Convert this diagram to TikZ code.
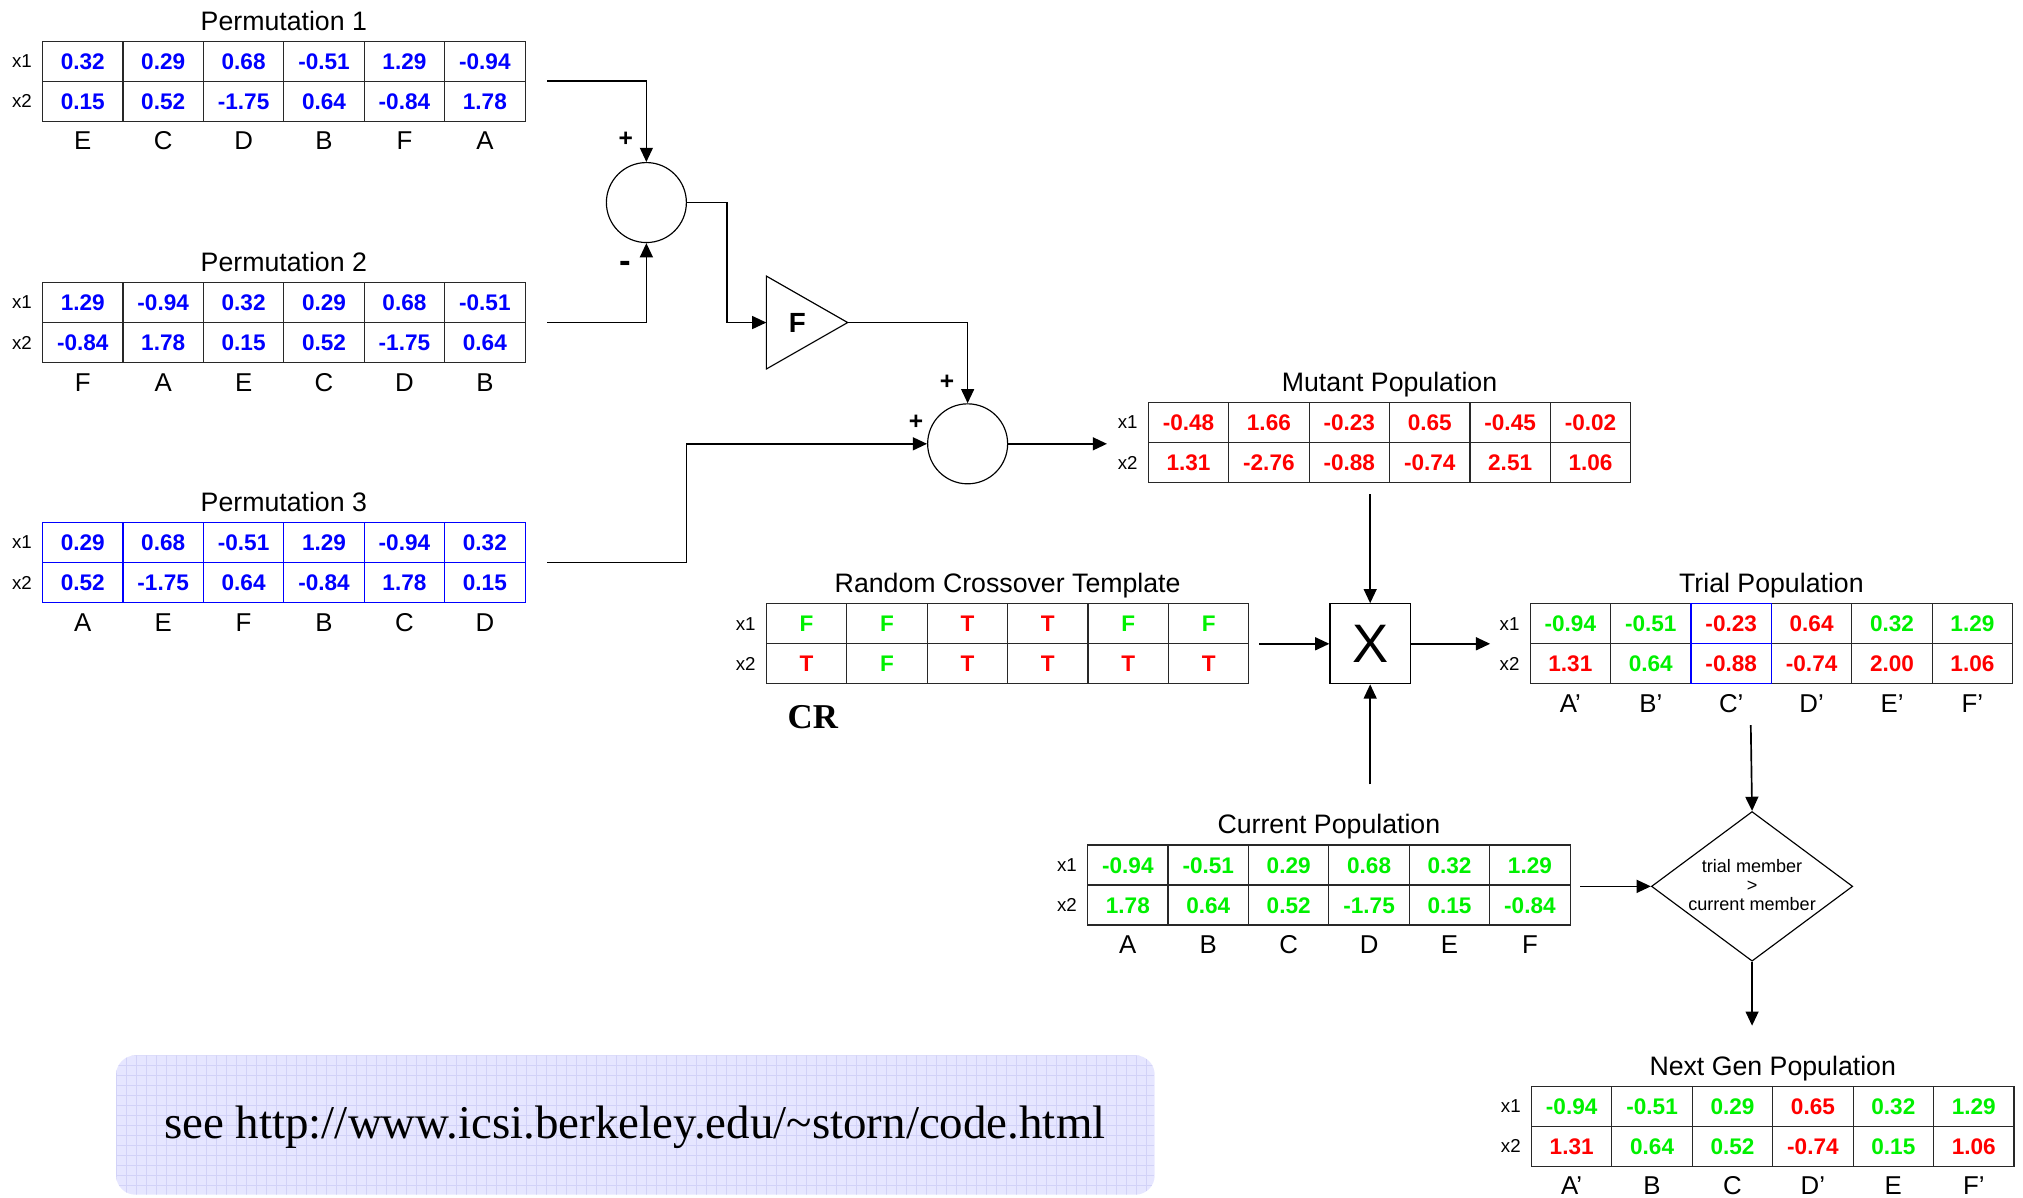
\documentclass[tikz,border=0pt]{standalone}
\usepackage{fontspec}
\setmainfont{Liberation Sans}
\newfontfamily\serifA{Liberation Serif}
\usetikzlibrary{arrows.meta,shapes.geometric,calc}
\definecolor{vblue}{RGB}{0,0,255}
\definecolor{vred}{RGB}{255,0,0}
\definecolor{vgreen}{RGB}{0,240,0}
\definecolor{boxfill}{RGB}{230,230,255}
\definecolor{boxgrid}{RGB}{210,210,247}
\definecolor{tline}{RGB}{40,40,40}
\tikzset{
 cell/.style={minimum width=62.33pt, minimum height=31pt, inner sep=0pt, outer sep=0pt, text height=12.5pt, text depth=0pt, font=\fontsize{17.5}{20}\selectfont\bfseries},
 tgrid/.style={line width=0.9pt, line cap=rect},
 ttl/.style={font=\fontsize{20.7}{24}\selectfont, inner sep=0pt, text height=14.8pt, text depth=0pt},
 rowlbl/.style={font=\fontsize{14.5}{16}\selectfont, inner sep=0pt},
 collbl/.style={font=\fontsize{20}{22}\selectfont, inner sep=0pt, text height=14.3pt, text depth=0pt},
 conn/.style={line width=1.3pt, -{Triangle[length=11pt,width=10pt]}},
 sumnode/.style={circle, draw, line width=0.9pt, minimum size=62pt, inner sep=0pt},
 sgn/.style={font=\fontsize{19}{20}\selectfont\bfseries, inner sep=0pt},
}
\newcommand\ptab[7]{%
  \node[ttl] (#1-t) at ({#2+187},{#3-16}) {#4};
  \node[rowlbl] (#1-x1) at ({#2-16},{#3+15.5}) {x1};
  \node[rowlbl] (#1-x2) at ({#2-16},{#3+46.5}) {x2};
  \foreach \cc/\vv [count=\ii] in {#5}
    \node[cell, text=\cc] (#1-a\ii) at ({#2+(\ii-0.5)*62.33},{#3+15.5}) {\vv};
  \foreach \cc/\vv [count=\ii] in {#6}
    \node[cell, text=\cc] (#1-b\ii) at ({#2+(\ii-0.5)*62.33},{#3+46.5}) {\vv};
  \draw[tgrid, draw=#7] (#1-a1.north west) rectangle (#1-b6.south east)
     (#1-a1.south west) -- (#1-a6.south east);
  \foreach \kk in {1,...,5}
    \draw[tgrid, draw=#7] (#1-a\kk.north east) -- (#1-b\kk.south east);
}
\newcommand\ptlet[4]{%
  \foreach \ll [count=\ii] in {#4}
    \node[collbl] (#1-l\ii) at ({#2+(\ii-0.5)*62.33},{#3+77}) {\ll};
}
\begin{document}
\begin{tikzpicture}[x=1pt,y=-1pt]
\useasboundingbox (0,0) rectangle (1568,928);

% link box
\fill[boxfill, rounded corners=15pt] (90,818) rectangle (895,926);
\begin{scope}
\clip[rounded corners=15pt] (90,818) rectangle (895,926);
\foreach \gx in {90,97.75,...,896} \draw[boxgrid, line width=0.6pt] (\gx,818) -- (\gx,926);
\foreach \gy in {818,825.75,...,927} \draw[boxgrid, line width=0.6pt] (90,\gy) -- (895,\gy);
\end{scope}
\node[font=\serifA\fontsize{36.4}{40}\selectfont, inner sep=0pt] (url) at (492,874) {see http://www.icsi.berkeley.edu/\textasciitilde storn/code.html};

% permutations
\ptab{p1}{33}{32}{Permutation 1}{vblue/0.32,vblue/0.29,vblue/0.68,vblue/-0.51,vblue/1.29,vblue/-0.94}{vblue/0.15,vblue/0.52,vblue/-1.75,vblue/0.64,vblue/-0.84,vblue/1.78}{tline}
\ptlet{p1}{33}{32}{E,C,D,B,F,A}
\ptab{p2}{33}{219}{Permutation 2}{vblue/1.29,vblue/-0.94,vblue/0.32,vblue/0.29,vblue/0.68,vblue/-0.51}{vblue/-0.84,vblue/1.78,vblue/0.15,vblue/0.52,vblue/-1.75,vblue/0.64}{tline}
\ptlet{p2}{33}{219}{F,A,E,C,D,B}
\ptab{p3}{33}{405}{Permutation 3}{vblue/0.29,vblue/0.68,vblue/-0.51,vblue/1.29,vblue/-0.94,vblue/0.32}{vblue/0.52,vblue/-1.75,vblue/0.64,vblue/-0.84,vblue/1.78,vblue/0.15}{vblue}
\ptlet{p3}{33}{405}{A,E,F,B,C,D}

% mutant
\ptab{mut}{890}{312}{Mutant Population}{vred/-0.48,vred/1.66,vred/-0.23,vred/0.65,vred/-0.45,vred/-0.02}{vred/1.31,vred/-2.76,vred/-0.88,vred/-0.74,vred/2.51,vred/1.06}{tline}
% crossover
\ptab{cro}{594}{468}{Random Crossover Template}{vgreen/F,vgreen/F,vred/T,vred/T,vgreen/F,vgreen/F}{vred/T,vgreen/F,vred/T,vred/T,vred/T,vred/T}{tline}
\node[font=\serifA\bfseries\fontsize{27}{30}\selectfont, inner sep=0pt] (cr) at (630,556) {CR};
% trial
\ptab{tr}{1186}{468}{Trial Population}{vgreen/-0.94,vgreen/-0.51,vred/-0.23,vred/0.64,vgreen/0.32,vgreen/1.29}{vred/1.31,vgreen/0.64,vred/-0.88,vred/-0.74,vred/2.00,vred/1.06}{tline}
\draw[tgrid, vblue] (tr-a3.north west) rectangle (tr-b3.south east) (tr-a3.south west) -- (tr-a3.south east);
\ptlet{tr}{1186}{468}{A’,B’,C’,D’,E’,F’}
% current
\ptab{cur}{843}{655}{Current Population}{vgreen/-0.94,vgreen/-0.51,vgreen/0.29,vgreen/0.68,vgreen/0.32,vgreen/1.29}{vgreen/1.78,vgreen/0.64,vgreen/0.52,vgreen/-1.75,vgreen/0.15,vgreen/-0.84}{tline}
\ptlet{cur}{843}{655}{A,B,C,D,E,F}
% next gen
\ptab{ng}{1187}{842}{Next Gen Population}{vgreen/-0.94,vgreen/-0.51,vgreen/0.29,vred/0.65,vgreen/0.32,vgreen/1.29}{vred/1.31,vgreen/0.64,vgreen/0.52,vred/-0.74,vgreen/0.15,vred/1.06}{tline}
\ptlet{ng}{1187}{842}{A’,B,C,D’,E,F’}

% operators
\node[sumnode] (s1) at (501,157) {};
\node[sumnode] (s2) at (750,344) {};
\coordinate (ampa) at (594,214);
\coordinate (ampb) at (657,250);
\coordinate (ampc) at (594,286);
\coordinate (ampin) at (594,250);
\draw[line width=0.9pt] (ampa) -- (ampb) -- (ampc) -- cycle;
\node[font=\fontsize{21.5}{24}\selectfont\bfseries, inner sep=0pt] (fl) at (618,250) {F};
\node[draw, line width=0.9pt, minimum width=62.33pt, minimum height=62pt, inner sep=0pt, font=\fontsize{42}{46}\selectfont] (xb) at (1062,499) {X};
\node[diamond, draw, line width=0.9pt, minimum width=156pt, minimum height=116pt, inner sep=0pt, aspect=1.34] (dm) at (1358,687) {};
\node[font=\fontsize{14}{16}\selectfont, align=center, inner sep=0pt] (dmt) at (1358,686) {trial member\\[-1pt]>\\[-1pt]current member};

% signs
\node[sgn] (sg1) at (485,108) {+};
\node[font=\fontsize{27}{28}\selectfont\bfseries, inner sep=0pt] (sg2) at (485,207) {-};
\node[sgn] (sg3) at (734,296) {+};
\node[sgn] (sg4) at (710,327) {+};

% connector ends
\coordinate (p1o) at ($(p1-b6.north east)+(17,0)$);
\coordinate (p2o) at ($(p2-b6.north east)+(17,0)$);
\coordinate (p3o) at ($(p3-b6.north east)+(17,0)$);
\coordinate (mi) at (858,344);
\coordinate (md) at (1062,383);
\coordinate (croo) at (976,499);
\coordinate (tri) at (1155,499);
\coordinate (trd) at (1357,562);
\coordinate (cuu) at (1062,608);
\coordinate (cuo) at (1225,687);
\coordinate (ngi) at (1358,795);

\draw[conn] (p1o) -| (s1.north);
\draw[conn] (p2o) -| (s1.south);
\draw[conn] (s1.east) -- ++(31,0) |- (ampin);
\draw[conn] (ampb) -| (s2.north);
\draw[conn] (p3o) -- ++(108,0) |- (s2.west);
\draw[conn] (s2.east) -- (mi);
\draw[conn] (md) -- (xb.north);
\draw[conn] (croo) -- (xb.west);
\draw[conn] (cuu) -- (xb.south);
\draw[conn] (xb.east) -- (tri);
\draw[conn] (trd) -- (dm.north);
\draw[conn] (cuo) -- (dm.west);
\draw[conn] (dm.south) -- (ngi);
\end{tikzpicture}
\end{document}
